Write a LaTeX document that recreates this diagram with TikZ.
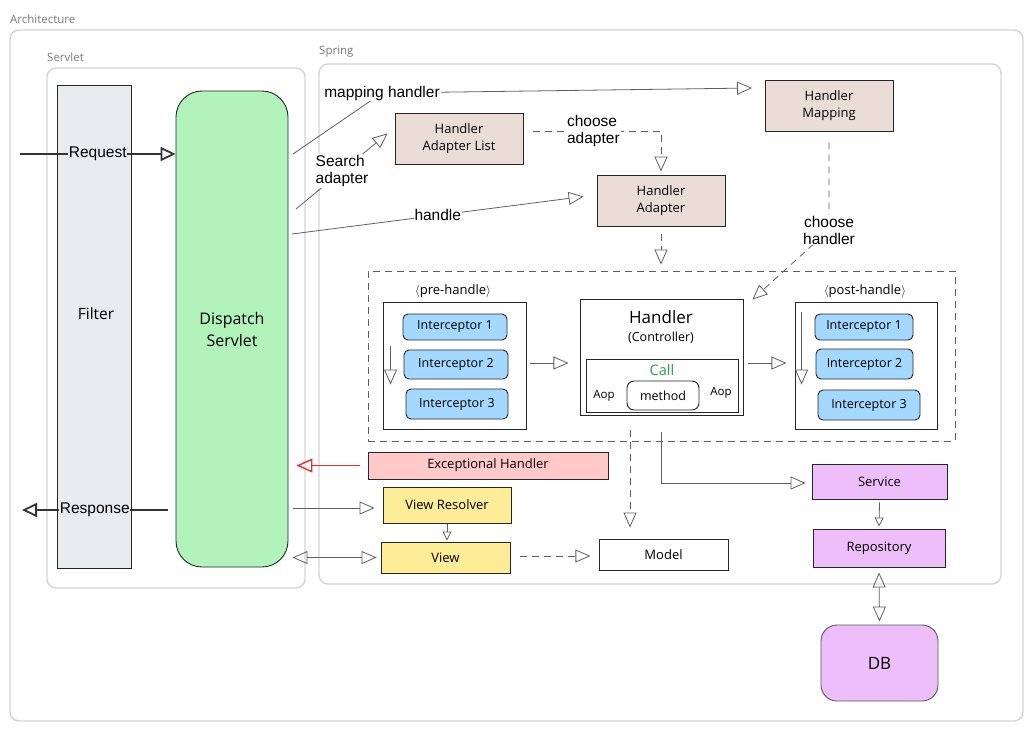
\documentclass[tikz,border=0pt]{standalone}
\usepackage{fontspec}
\setmainfont{Liberation Sans}
\newfontfamily\hand{Open Sans}
\usetikzlibrary{arrows.meta,calc}
\definecolor{secgray}{HTML}{D4D4D4}
\definecolor{lblgray}{HTML}{7A7A7A}
\definecolor{filtercol}{HTML}{E9ECEF}
\definecolor{greenfill}{HTML}{B2F2BB}
\definecolor{brownfill}{HTML}{EADDD7}
\definecolor{redfill}{HTML}{FFC9C9}
\definecolor{redline}{HTML}{E03131}
\definecolor{yellowfill}{HTML}{FFEC99}
\definecolor{bluefill}{HTML}{A5D8FF}
\definecolor{purplefill}{HTML}{EEBEFA}
\definecolor{conngray}{HTML}{5F5F5F}
\definecolor{callgreen}{HTML}{2F9E44}
\tikzset{
  sect/.style={draw=secgray, line width=1.4pt, rounded corners=9pt},
  sectlbl/.style={text=lblgray, font=\hand\fontsize{11.5}{13}\selectfont, anchor=west, inner sep=0pt},
  hbox/.style={draw=black!85, line width=0.9pt, font=\hand\fontsize{13}{17}\selectfont, align=center, inner sep=0pt},
  ibox/.style={hbox, fill=bluefill, rounded corners=5pt, font=\hand\fontsize{12.5}{14}\selectfont},
  conn/.style={draw=conngray, line width=0.8pt},
  tri/.style={-{Triangle[open,length=15pt,width=13pt]}},
  stri/.style={-{Triangle[open,length=9pt,width=9pt]}},
  dtri/.style={{Triangle[open,length=15pt,width=13pt]}-{Triangle[open,length=15pt,width=13pt]}},
  clbl/.style={fill=white, font=\fontsize{15.5}{17}\selectfont, align=left, inner sep=1pt},
  bigarrow/.style={draw=black!80, line width=1.8pt, -{Triangle[open,length=15pt,width=14pt,line width=1.8pt]}},
  dsh/.style={dashed, dash pattern=on 7pt off 5pt},
}
\begin{document}
\begin{tikzpicture}[x=1pt,y=-1pt]
\useasboundingbox (0,0) rectangle (1033,732);
% sections
\node[sectlbl] (larch) at (10,19) {Architecture};
\draw[sect] (10,30) rectangle (1023,721);
\node[sectlbl] (lserv) at (47,57) {Servlet};
\draw[sect] (47,68) rectangle (305,588);
\node[sectlbl] (lspring) at (319,52) {Spring};
\draw[sect] (319,64) rectangle (1001,584);

% servlet side
\node[hbox, fill=filtercol, minimum width=74pt, minimum height=483pt] (filter) at (94,326.5) {};
\node[font=\hand\fontsize{15.5}{17}\selectfont] (filtertxt) at (96,314) {Filter};
\node[hbox, fill=greenfill, rounded corners=26pt, minimum width=112pt, minimum height=476pt, font=\hand\fontsize{16}{22}\selectfont] (disp) at (232,329) {Dispatch\\Servlet};

% spring top
\node[hbox, fill=brownfill, minimum width=128pt, minimum height=51pt] (hm) at (829,105.5) {Handler\\Mapping};
\node[hbox, fill=brownfill, minimum width=128pt, minimum height=51pt] (hal) at (459,138.5) {Handler\\Adapter List};
\node[hbox, fill=brownfill, minimum width=128pt, minimum height=51pt] (ha) at (661,200.5) {Handler\\Adapter};

% group
\node[draw=conngray, dsh, line width=0.9pt, minimum width=587pt, minimum height=170pt, inner sep=0pt] (group) at (661.5,356) {};
\node[font=\hand\fontsize{13}{14}\selectfont] (prelbl) at (453,291) {$\langle$pre-handle$\rangle$};
\node[font=\hand\fontsize{13}{14}\selectfont] (postlbl) at (865,291) {$\langle$post-handle$\rangle$};
\node[hbox, minimum width=143pt, minimum height=127pt] (pre) at (454.5,365.5) {};
\node[ibox, minimum width=104pt, minimum height=26pt] (pre1) at (455,327) {Interceptor 1};
\node[ibox, minimum width=104pt, minimum height=29pt] (pre2) at (456,364.5) {Interceptor 2};
\node[ibox, minimum width=102pt, minimum height=30pt] (pre3) at (457,404) {Interceptor 3};
\node[hbox, minimum width=142pt, minimum height=127pt] (post) at (866,365.5) {};
\node[ibox, minimum width=98pt, minimum height=26pt] (post1) at (864,327) {Interceptor 1};
\node[ibox, minimum width=97pt, minimum height=30pt] (post2) at (864.5,364) {Interceptor 2};
\node[ibox, minimum width=102pt, minimum height=30pt] (post3) at (869,405) {Interceptor 3};

\node[hbox, minimum width=163pt, minimum height=116pt] (handler) at (661.5,357) {};
\node[font=\hand\fontsize{17}{18}\selectfont] (htitle) at (661,317) {Handler};
\node[font=\hand\fontsize{12.5}{14}\selectfont] (hsub) at (661,338) {(Controller)};
\node[hbox, minimum width=152pt, minimum height=53pt] (inner) at (662,385.5) {};
\node[font=\hand\fontsize{14.5}{16}\selectfont, text=callgreen] (call) at (662,370) {Call};
\node[font=\hand\fontsize{11.5}{13}\selectfont] (aop1) at (604,396) {Aop};
\node[font=\hand\fontsize{11.5}{13}\selectfont] (aop2) at (721,393) {Aop};
\node[hbox, rounded corners=7pt, minimum width=72pt, minimum height=29pt, font=\hand\fontsize{12.5}{14}\selectfont] (method) at (663,395.5) {method};

% lower
\node[hbox, fill=redfill, minimum width=240pt, minimum height=27pt] (exc) at (488,465.5) {Exceptional Handler};
\node[hbox, fill=yellowfill, minimum width=128pt, minimum height=36pt] (vr) at (447,505) {View Resolver};
\node[hbox, fill=yellowfill, minimum width=129pt, minimum height=31pt] (view) at (445.5,557.5) {View};
\node[hbox, fill=white, minimum width=129pt, minimum height=31pt] (model) at (663.5,554.5) {Model};
\node[hbox, fill=purplefill, minimum width=135pt, minimum height=35pt] (service) at (879.5,481.5) {Service};
\node[hbox, fill=purplefill, minimum width=132pt, minimum height=38pt] (repo) at (879,548) {Repository};
\node[hbox, fill=purplefill, draw=black!65, rounded corners=16pt, minimum width=117pt, minimum height=76pt, font=\hand\fontsize{17}{18}\selectfont] (db) at (879.5,663) {DB};

% Request / Response
\coordinate (reqS) at (20,154);
\coordinate (respE) at (22,510);
\draw[bigarrow] (reqS) -- node[fill=filtercol, inner sep=0.5pt, font=\fontsize{15.5}{17}\selectfont] (reqlbl) {Request} (reqS -| disp.west);
\draw[bigarrow] ($(respE -| disp.west)+(-8,0)$) -- node[fill=filtercol, inner sep=0.5pt, font=\fontsize{15.5}{17}\selectfont] (resplbl) {Response} (respE);

% top connectors
\coordinate (d1) at (293,154);
\coordinate (d2) at (296,209);
\coordinate (d3) at (292,234);
\coordinate (hmIn) at (752,88);
\draw[conn, tri] (d1) -- (382,93) node[clbl] (mlbl) {mapping handler} -- (hmIn);
\draw[conn, tri] (d2) -- (342,171) node[clbl, align=left] (slbl) {Search\\adapter} -- ($(hal.west)+(-7,-5)$);
\draw[conn, tri] (d3) -- node[clbl, pos=0.5] (hlbl) {handle} ($(ha.west)+(-13,-4)$);
\coordinate (ca1) at ($(hal.east)+(10,-7.5)$);
\draw[conn, dsh, tri] (ca1) -- node[clbl, pos=0.47] (calbl) {choose\\adapter} (ca1 -| ha.north) -- ($(ha.north)+(0,-3)$);
\draw[conn, dsh, tri] ($(ha.south)+(0,8)$) -- ($(ha.south |- group.north)+(0,-6)$);
\draw[conn, dsh, tri] ($(hm.south)+(0,11)$) -- (829,230) node[clbl, align=center] (chlbl) {choose\\handler} -- ($(handler.north east)+(9,1)$);

% inside group
\draw[conn, tri] ($(pre.north west)+(8,44)$) -- ++(0,39);
\draw[conn, tri] ($(post.north west)+(7,10)$) -- ++(0,73);
\draw[conn, tri] ($(pre.east)+(4,-2.5)$) -- ($(pre.east)+(42,-2.5)$);
\draw[conn, tri] ($(handler.east)+(5,6)$) -- ($(handler.east)+(43,6)$);

% from handler
\draw[conn, dsh, tri] ($(handler.south)+(-31.5,15)$) -- ($(model.north)+(-33.5,-11)$);
\draw[conn, tri] ($(handler.south)+(0,17)$) |- ($(service.west)+(-6,1.5)$);

% lower connectors
\draw[draw=redline, line width=1.4pt, -{Triangle[open,length=16pt,width=14pt,line width=1.4pt]}] ($(exc.west)+(-8,0)$) -- ($(exc.west -| disp.east)+(8,0)$);
\draw[conn, tri] ($(vr.west -| disp.east)+(5,3)$) -- ($(vr.west)+(-8,3)$);
\draw[conn, stri] ($(vr.south)+(0,1)$) -- ($(vr.south |- view.north)+(0,-1)$);
\draw[conn, dtri] ($(view.west -| disp.east)+(4,0)$) -- ($(view.west)+(-4,0)$);
\draw[conn, dsh, tri] ($(view.east)+(10,-1.5)$) -- ($(view.east)+(80,-1.5)$);
\draw[conn, stri] ($(service.south)+(0,3)$) -- ($(repo.north)+(0,-2)$);
\draw[conn, dtri] ($(repo.south)+(0,5)$) -- ($(db.north)+(0,-3)$);
\end{tikzpicture}
\end{document}
